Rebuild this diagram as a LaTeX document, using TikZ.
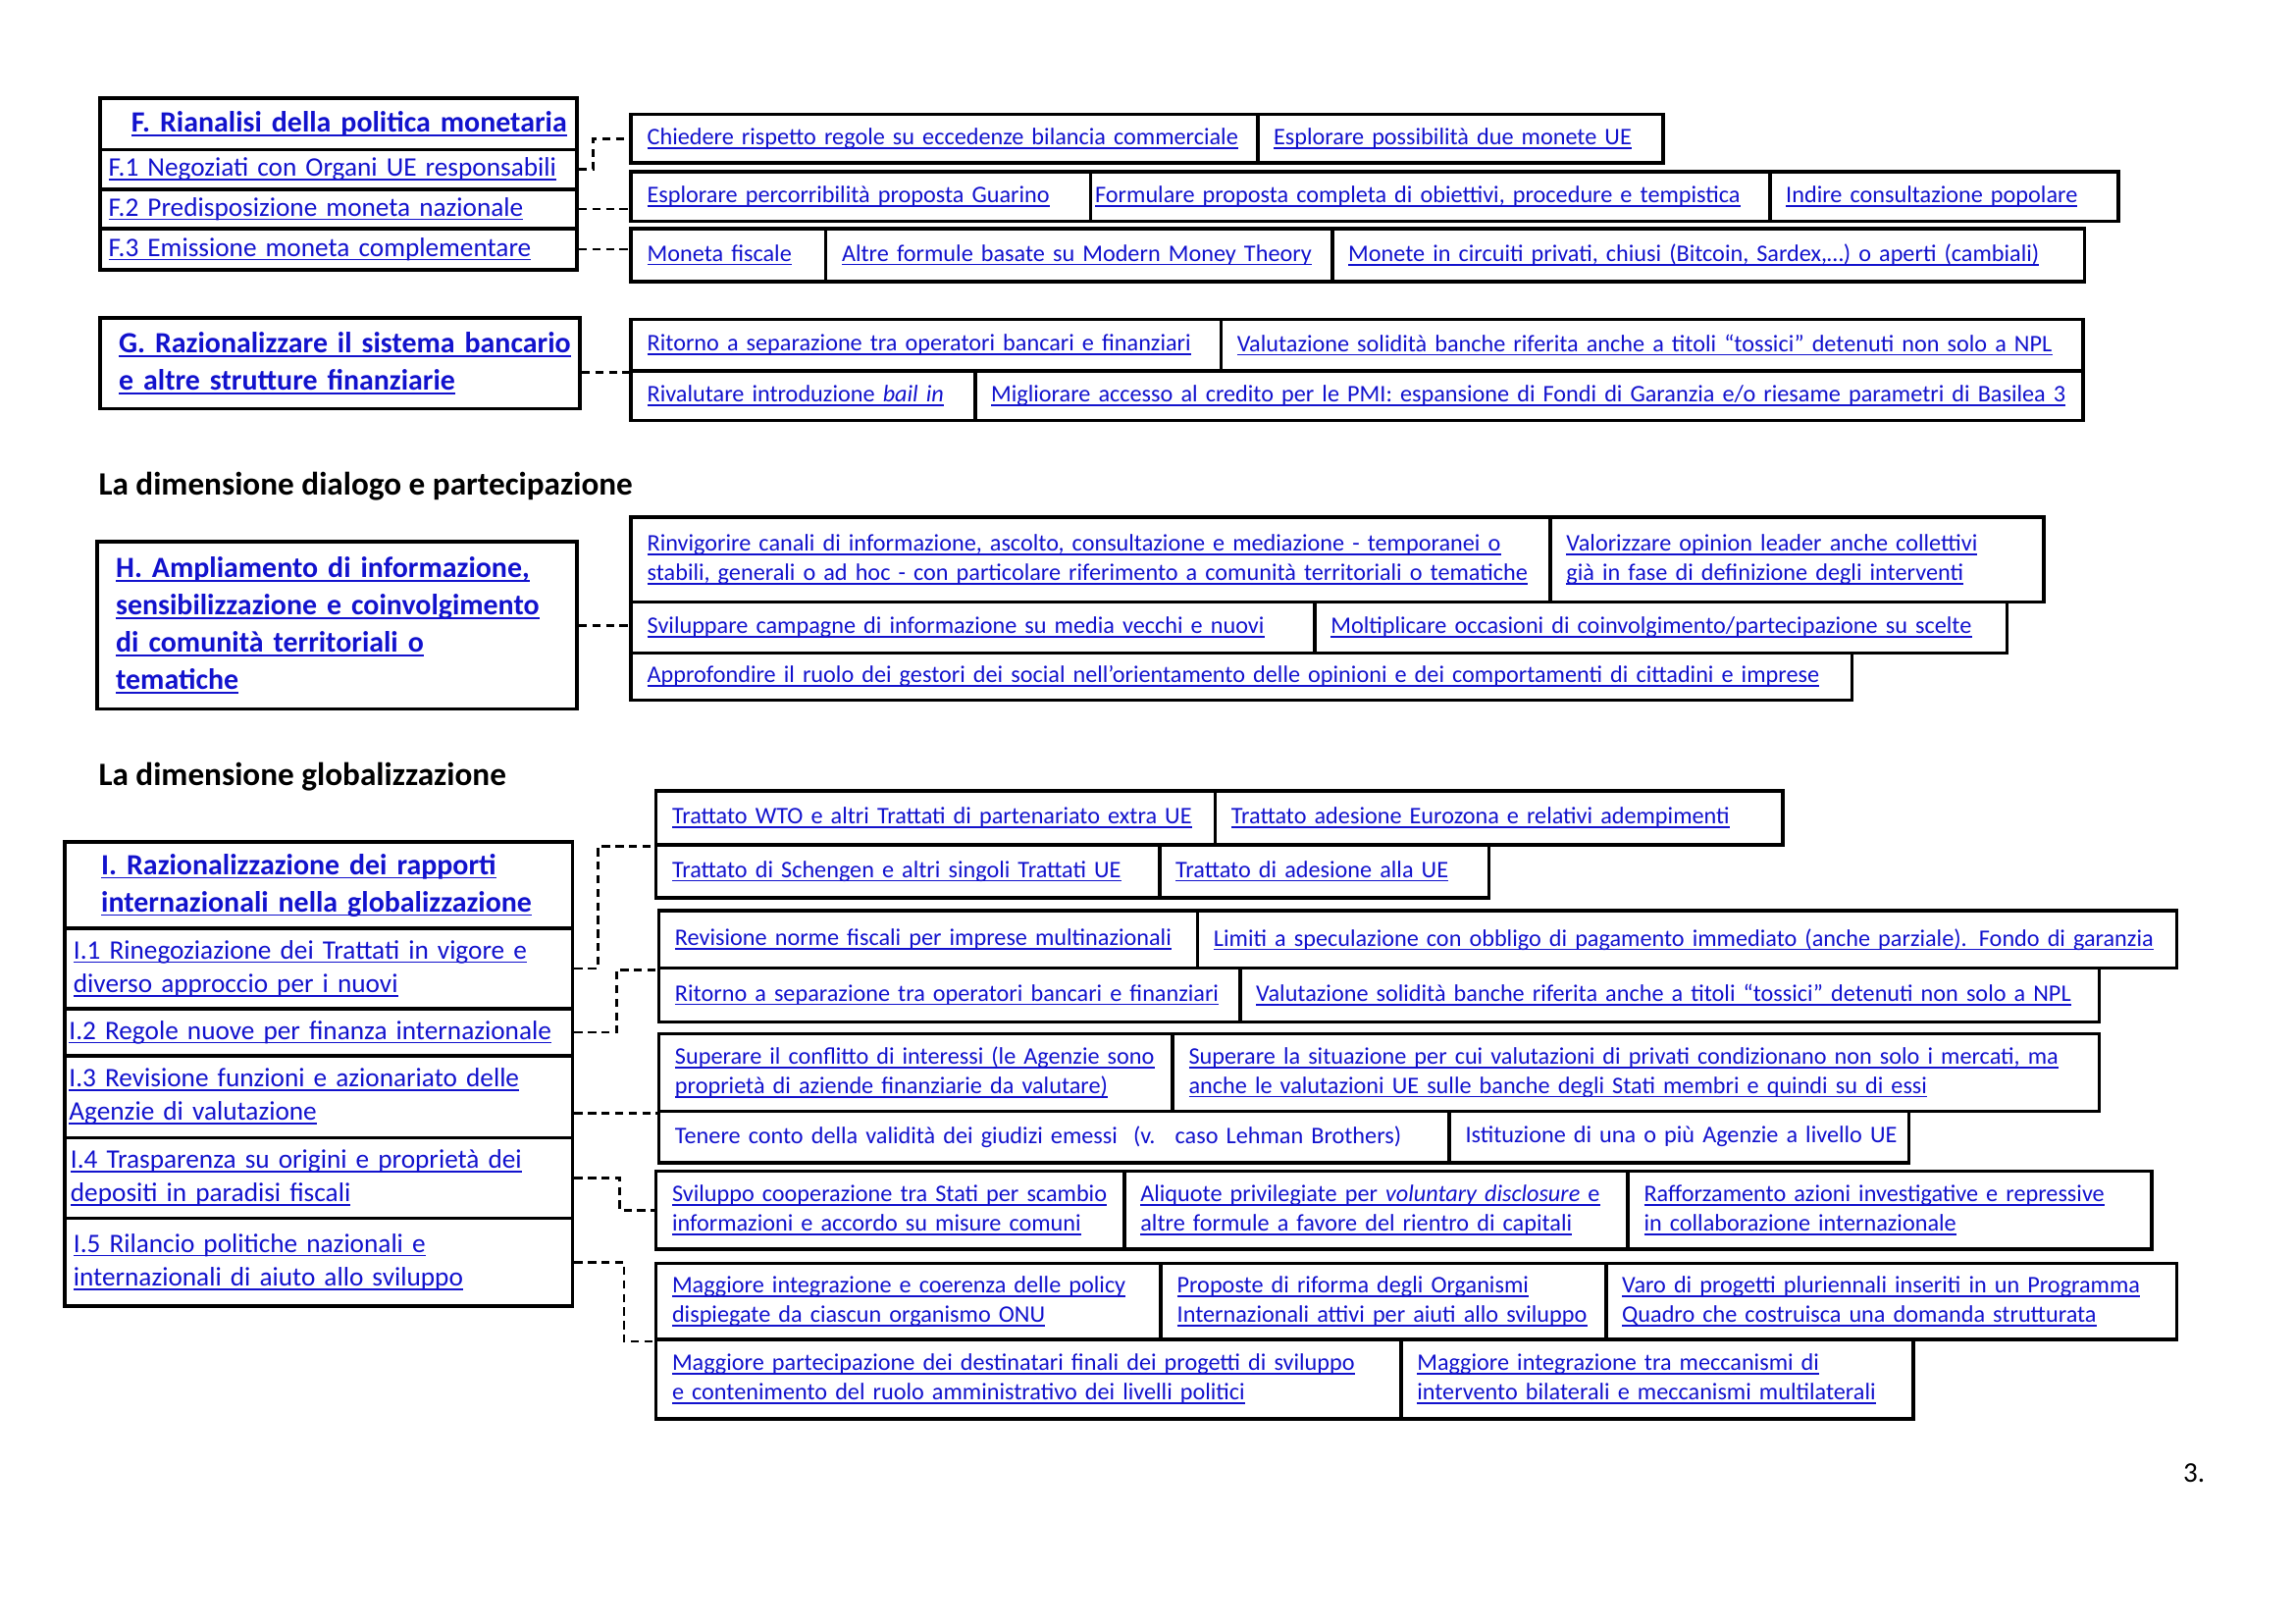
\documentclass[tikz,border=0pt]{standalone}
\usepackage{fontspec}
\setmainfont{Carlito}
\newsavebox{\lnkbox}
\newcommand{\lnk}[1]{\leavevmode\sbox{\lnkbox}{#1}\rlap{\rule[-1.5pt]{\wd\lnkbox}{0.6pt}}\usebox{\lnkbox}}
\newcommand{\pu}{0.018941cm}
\definecolor{linkblue}{RGB}{18,18,205}

\begin{document}
\begin{tikzpicture}[x=\pu, y=-\pu,
 cell/.style 2 args={draw, line width=1.3pt, anchor=north west, inner ysep=0pt,
   inner xsep=11*\pu, text width=#1*\pu-22*\pu, minimum height=#2*\pu,
   align=left, text=linkblue, font=\fontsize{8.75}{10.8}\selectfont},
 row/.style 2 args={cell={#1}{#2}, inner xsep=6*\pu, text width=#1*\pu-12*\pu,
   font=\fontsize{9.85}{12.4}\selectfont},
 head/.style 2 args={cell={#1}{#2}, inner xsep=13*\pu, text width=#1*\pu-26*\pu,
   font=\bfseries\fontsize{10.8}{13.7}\selectfont},
 conn/.style={line width=1pt, dash pattern=on 3pt off 2pt},
 sect/.style={anchor=west, inner xsep=0pt, font=\bfseries\fontsize{12}{14}\selectfont}]
\useasboundingbox (0,0) rectangle (1568,1109);

% F
\node[head={326}{35}, inner xsep=7*\pu, text width=312*\pu, align=right] (ft) at (67,66) {\lnk{F. Rianalisi della politica monetaria}};
\node[row={326}{27}] (f1) at (67,101) {\lnk{F.1 Negoziati con Organi UE responsabili}};
\node[row={326}{27}] (f2) at (67,128) {\lnk{F.2 Predisposizione moneta nazionale}};
\node[row={326}{28}] (f3) at (67,155) {\lnk{F.3 Emissione moneta complementare}};

\node[cell={428}{33}] (fca) at (430,77) {\lnk{Chiedere rispetto regole su eccedenze bilancia commerciale}};
\node[cell={277}{33}] (fcb) at (858,77) {\lnk{Esplorare possibilità due monete UE}};
\node[cell={314}{34}] (fga) at (430,116) {\lnk{Esplorare percorribilità proposta Guarino}};
\node[cell={464}{34}, inner xsep=3*\pu, text width=458*\pu] (fgb) at (744,116) {\lnk{Formulare proposta completa di obiettivi, procedure e tempistica}};
\node[cell={238}{34}] (fgc) at (1208,116) {\lnk{Indire consultazione popolare}};
\node[cell={133}{36}] (fma) at (430,155) {\lnk{Moneta fiscale}};
\node[cell={346}{36}] (fmb) at (563,155) {\lnk{Altre formule basate su Modern Money Theory}};
\node[cell={514}{36}] (fmc) at (909,155) {\lnk{Monete in circuiti privati, chiusi (Bitcoin, Sardex,…) o aperti (cambiali)}};

\draw[conn] (f1.east) -- ++(10,0) |- (fca.west);
\draw[conn] (f2.east) -- (f2.east -| fga.west);
\draw[conn] (f3.east) -- (f3.east -| fma.west);

% G
\node[head={328}{62}] (g) at (67,216) {\lnk{G. Razionalizzare il sistema bancario}\\\lnk{e altre strutture finanziarie}};

\node[cell={403}{35}] (gra) at (430,217) {\lnk{Ritorno a separazione tra operatori bancari e finanziari}};
\node[cell={589}{35}] (grb) at (833,217) {\lnk{Valutazione solidità banche riferita anche a titoli “tossici” detenuti non solo a NPL}};
\node[cell={235}{34}] (gva) at (430,252) {\lnk{Rivalutare introduzione \textit{bail in}}};
\node[cell={757}{34}] (gvb) at (665,252) {\lnk{Migliorare accesso al credito per le PMI: espansione di Fondi di Garanzia e/o riesame parametri di Basilea 3}};

\draw[conn] (gra.south west -| g.east) -- (gra.south west);

% H
\node[sect] (sdp) at (67,332) {La dimensione dialogo e partecipazione};
\node[head={328}{114}] (h) at (65,369) {\lnk{H. Ampliamento di informazione,}\\\lnk{sensibilizzazione e coinvolgimento}\\\lnk{di comunità territoriali o}\\\lnk{tematiche}};

\node[cell={628}{58}] (hra) at (430,352) {\lnk{Rinvigorire canali di informazione, ascolto, consultazione e mediazione - temporanei o}\\\lnk{stabili, generali o ad hoc - con  particolare riferimento a comunità territoriali o tematiche}};
\node[cell={337}{58}] (hrb) at (1058,352) {\lnk{Valorizzare opinion leader anche collettivi}\\\lnk{già in fase di definizione degli interventi}};
\node[cell={467}{35}] (hsa) at (430,410) {\lnk{Sviluppare campagne di informazione su media vecchi e nuovi}};
\node[cell={473}{35}] (hsb) at (897,410) {\lnk{Moltiplicare occasioni di coinvolgimento/partecipazione su scelte}};
\node[cell={834}{32}] (hap) at (430,445) {\lnk{Approfondire il ruolo dei gestori dei social nell’orientamento delle opinioni e dei comportamenti di cittadini e imprese}};

\draw[conn] (h.east) -- (h.east -| hsa.west);

% I
\node[sect] (sgl) at (67,531) {La dimensione globalizzazione};
\node[head={347}{59}, inner xsep=25*\pu, text width=297*\pu] (it) at (43,574) {\lnk{I. Razionalizzazione dei rapporti}\\\lnk{internazionali nella globalizzazione}};
\node[row={347}{55}] (i1) at (43,633) {\lnk{I.1 Rinegoziazione dei Trattati in vigore e}\\\lnk{diverso approccio per i  nuovi}};
\node[row={347}{32}, inner xsep=3*\pu, text width=341*\pu] (i2) at (43,688) {\lnk{I.2 Regole nuove per finanza internazionale}};
\node[row={347}{56}, inner xsep=3*\pu, text width=341*\pu] (i3) at (43,720) {\lnk{I.3 Revisione funzioni e azionariato  delle}\\\lnk{Agenzie di valutazione}};
\node[row={347}{55}, inner xsep=4*\pu, text width=339*\pu] (i4) at (43,776) {\lnk{I.4 Trasparenza su origini e proprietà dei}\\\lnk{depositi in paradisi fiscali}};
\node[row={347}{60}] (i5) at (43,831) {\lnk{I.5 Rilancio politiche nazionali e}\\\lnk{internazionali di aiuto allo sviluppo}};

\node[cell={382}{37}] (ita) at (447,539) {\lnk{Trattato WTO e altri Trattati di partenariato extra UE}};
\node[cell={388}{37}] (itb) at (829,539) {\lnk{Trattato adesione Eurozona e relativi adempimenti}};
\node[cell={344}{36}] (isc) at (447,576) {\lnk{Trattato di Schengen e altri singoli Trattati UE}};
\node[cell={225}{36}] (isd) at (791,576) {\lnk{Trattato di adesione alla UE}};

\node[cell={368}{39}] (ira) at (449,621) {\lnk{Revisione norme fiscali per imprese multinazionali}};
\node[cell={669}{39}] (irb) at (817,621) {\lnk{Limiti a speculazione con obbligo di pagamento immediato (anche parziale). Fondo di garanzia}};
\node[cell={397}{37}] (iba) at (449,660) {\lnk{Ritorno a separazione tra operatori bancari e finanziari}};
\node[cell={587}{37}] (ibb) at (846,660) {\lnk{Valutazione solidità banche riferita anche a titoli “tossici” detenuti  non solo a NPL}};

\node[cell={351}{53}] (isa) at (449,705) {\lnk{Superare il conflitto di interessi (le Agenzie sono}\\\lnk{proprietà di aziende finanziarie da valutare)}};
\node[cell={633}{53}] (isb) at (800,705) {\lnk{Superare la situazione per cui valutazioni di privati condizionano non solo i mercati, ma}\\\lnk{anche le valutazioni UE sulle banche degli Stati membri e quindi su di essi}};
\node[cell={540}{35}] (itc) at (449,758) {\mbox{Tenere conto della validità dei giudizi emessi \ (v. \ caso Lehman Brothers)}};
\node[cell={314}{35}] (itd) at (989,758) {\mbox{Istituzione di una o più Agenzie a livello UE}};

\node[cell={320}{53}] (iva) at (447,799) {\lnk{Sviluppo cooperazione tra Stati per scambio}\\\lnk{informazioni e accordo su misure comuni}};
\node[cell={344}{53}] (ivb) at (767,799) {\lnk{Aliquote privilegiate per \textit{voluntary disclosure} e}\\\lnk{altre formule a favore del rientro di capitali}};
\node[cell={358}{53}] (ivc) at (1111,799) {\lnk{Rafforzamento azioni investigative e repressive}\\\lnk{in collaborazione internazionale}};

\node[cell={345}{52}] (ima) at (447,862) {\lnk{Maggiore integrazione e coerenza delle policy}\\\lnk{dispiegate da ciascun organismo ONU}};
\node[cell={304}{52}] (imb) at (792,862) {\lnk{Proposte di riforma degli Organismi}\\\lnk{Internazionali attivi per aiuti allo sviluppo}};
\node[cell={390}{52}] (imc) at (1096,862) {\lnk{Varo di progetti pluriennali inseriti in un Programma}\\\lnk{Quadro che costruisca una domanda strutturata}};
\node[cell={509}{54}] (ipa) at (447,914) {\lnk{Maggiore partecipazione dei destinatari finali dei progetti di sviluppo}\\\lnk{e contenimento del ruolo amministrativo dei livelli politici}};
\node[cell={350}{54}] (ipb) at (956,914) {\lnk{Maggiore integrazione tra meccanismi di}\\\lnk{intervento bilaterali e meccanismi multilaterali}};

\draw[conn] (i1.east) -- ++(16,0) |- (ita.south west);
\draw[conn] (i2.east) -- ++(29,0) |- (ira.south west);
\draw[conn] (isa.south west -| i3.east) -- (isa.south west);
\draw[conn] (i4.east) -- ++(31,0) |- (iva.west);
\draw[conn] (i5.east) -- ++(34,0) |- (ima.south west);

\node[font=\fontsize{10.5}{12}\selectfont] (pg) at (1499,1006) {3.};
\end{tikzpicture}
\end{document}
